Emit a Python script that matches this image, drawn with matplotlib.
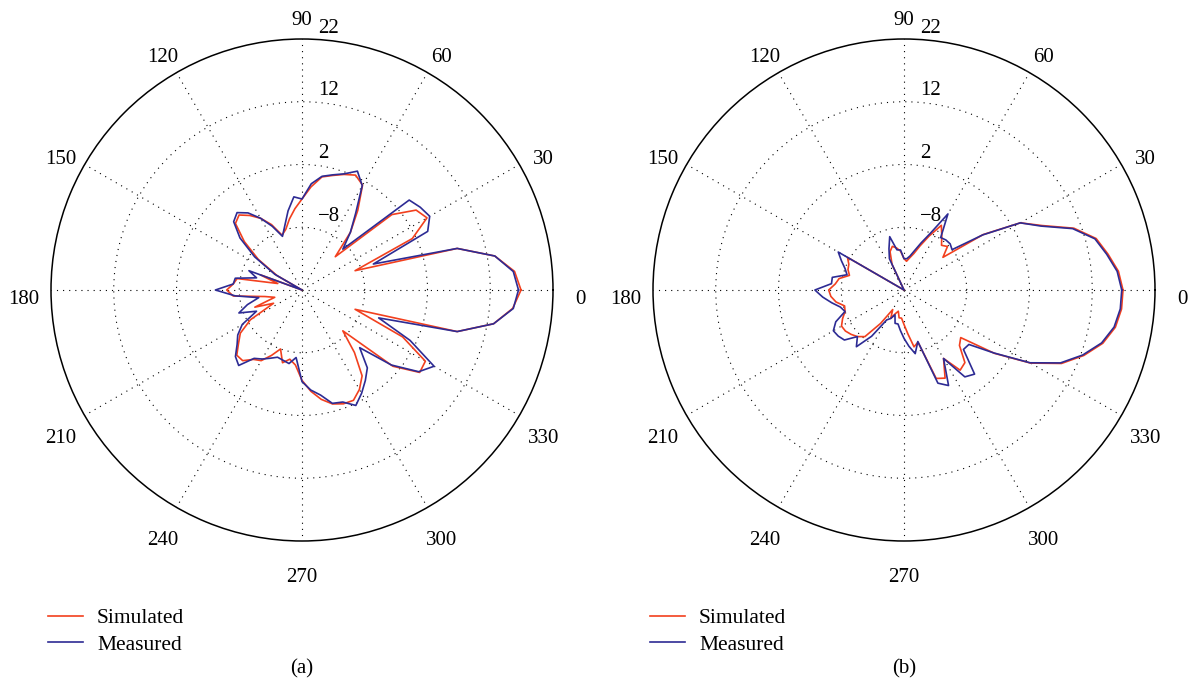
import numpy as np
import matplotlib
matplotlib.use("Agg")
import matplotlib.pyplot as plt
from matplotlib.transforms import offset_copy

# angles (deg), one sample every 5 degrees
angles_deg = list(range(0, 360, 5))

# (a) radiation pattern, dB
sim_a = [16.9, 16.0, 13.2, 7.6, -9.0, 1.4, 5.0, 4.2, 0.7, -10.5,
         -6.0, -2.5, 1.3, 2.2, 1.6, 0.9, 0.3, -1.5, -3.5, -5.0,
         -6.5, -8.0, -8.7, -6.5, -4.8, -3.5, -2.4, -3.0, -6.0, -9.5,
         -13.4, -18.0, -10.9, -14.0, -7.5, -7.0, -6.0, -7.0, -12.0, -13.5,
         -10.0, -13.0, -8.5, -6.0, -4.8, -3.3, -3.3, -4.5, -5.0, -6.5,
         -8.0, -6.0, -6.8, -6.0, -3.6, -1.8, -0.3, 0.8, 1.3, 1.4,
         0.3, -1.3, -5.0, -8.8, 0.9, 4.9, 4.7, -0.3, -9.0, 7.6,
         13.0, 15.7]
meas_a = [16.5, 15.8, 13.2, 7.6, -5.9, 4.1, 5.5, 5.0, 4.3, -8.8,
          -6.0, -3.1, 1.2, 2.9, 1.7, 1.0, 0.4, -1.0, -3.5, -3.1,
          -5.2, -7.4, -8.9, -6.8, -4.8, -3.0, -1.9, -2.6, -5.1, -8.8,
          -13.0, -18.0, -9.0, -10.5, -7.2, -7.0, -4.2, -7.3, -11.0, -9.0,
          -7.3, -10.0, -7.0, -5.5, -4.5, -3.0, -2.3, -4.7, -5.3, -6.0,
          -6.6, -6.4, -6.1, -7.2, -3.4, -2.0, -1.0, 0.7, 1.0, 2.3,
          1.0, -0.4, -1.8, -5.0, 0.6, 4.7, 6.3, 1.0, -5.0, 7.6,
          13.0, 15.8]

# (b) radiation pattern, dB
sim_b = [16.9, 16.3, 15.0, 13.7, 10.8, 6.3, 3.4, -2.6, -9.9, -8.2,
         -8.7, -7.5, -6.1, -8.5, -10.5, -12.0, -12.8, -13.4, -13.0, -11.8,
         -11.2, -10.8, -11.5, -13.5, -18.0, -18.0, -18.0, -18.0, -18.0, -18.0,
         -7.6, -8.3, -8.5, -9.0, -7.5, -7.0, -6.0, -6.3, -7.0, -8.2,
         -8.0, -7.2, -6.5, -6.6, -7.0, -7.5, -8.3, -11.5, -14.4, -13.0,
         -14.0, -14.5, -13.5, -13.5, -12.5, -11.0, -8.8, -9.4, -3.0, -2.5,
         -5.4, -2.4, -2.9, -5.5, -6.2, -0.4, 5.3, 9.7, 12.5, 14.8,
         16.2, 16.8]
meas_b = [16.7, 16.1, 14.8, 13.5, 10.6, 6.1, 3.4, -2.7, -8.0, -7.6,
          -7.6, -7.8, -4.0, -8.0, -10.0, -11.5, -12.5, -13.0, -13.0, -11.6,
          -11.5, -9.2, -11.0, -12.5, -18.0, -18.0, -18.0, -18.0, -18.0, -18.0,
          -5.9, -7.0, -8.0, -8.6, -6.4, -6.4, -3.8, -5.0, -6.3, -7.5,
          -8.0, -6.0, -5.0, -5.2, -5.6, -7.5, -6.2, -9.0, -12.5, -13.0,
          -13.8, -12.5, -12.5, -11.5, -10.3, -9.0, -7.7, -9.5, -2.2, -1.2,
          -5.4, -1.1, -0.5, -4.6, -4.5, -0.5, 5.2, 9.5, 12.3, 14.6,
          16.0, 16.6]

ring_labels = [-8, 2, 12, 22]
angle_labels = list(range(0, 360, 30))
r_min, r_max = -18, 22

red = "#f2401e"
blue = "#2d2b94"
plt.rcParams["font.family"] = ["Liberation Serif", "DejaVu Serif"]

fig = plt.figure(figsize=(11.97, 6.97), dpi=100)


def closed(vals):
    th = np.deg2rad(angles_deg + [angles_deg[0]])
    return th, np.array(vals + [vals[0]])


def draw(rect, sim, meas, tag):
    ax = fig.add_axes(rect, projection="polar")
    ax.set_ylim(r_min, r_max)
    ax.set_xticks(np.deg2rad(angle_labels))
    ax.set_yticks(ring_labels[:-1])
    ax.set_xticklabels([])
    ax.set_yticklabels([])
    ax.tick_params(length=0)
    ax.grid(True, color="black", linestyle=(0, (1, 4.5)), linewidth=0.8)
    ax.spines["polar"].set_color("black")
    ax.spines["polar"].set_linewidth(1.1)

    th, r = closed(sim)
    l1, = ax.plot(th, r, color=red, lw=1.2, label="Simulated")
    th, r = closed(meas)
    l2, = ax.plot(th, r, color=blue, lw=1.2, label="Measured")

    # angle labels just outside the outer circle
    ang_tr = offset_copy(ax.transData, fig=fig, x=0, y=-6.5, units="points")
    for a in angle_labels:
        ax.text(np.deg2rad(a), r_min + (r_max - r_min) * 1.11, str(a),
                transform=ang_tr, ha="center", va="center", fontsize=15)

    rad_tr = offset_copy(ax.transData, fig=fig, x=11.5, y=7.9, units="points")
    for v in ring_labels:
        ax.text(np.pi / 2, v, str(v).replace("-", "\u2212"), transform=rad_tr,
                ha="left", va="center", fontsize=15)

    # legend + caption below each plot
    x0 = rect[0]
    ax.legend(handles=[l1, l2], loc="upper left",
              bbox_to_anchor=(x0 - 3 / 1197, (697 - 608) / 697),
              bbox_transform=fig.transFigure, frameon=False, fontsize=15.5,
              handlelength=1.63, handletextpad=0.65, labelspacing=0.32,
              borderpad=0, borderaxespad=0)
    fig.text(x0 + rect[2] / 2, (697 - 669) / 697, tag, ha="center",
             va="center", fontsize=15)
    return ax


draw([51 / 1197, 156 / 697, 502 / 1197, 502 / 697], sim_a, meas_a, "(a)")
draw([653 / 1197, 156 / 697, 502 / 1197, 502 / 697], sim_b, meas_b, "(b)")

fig.savefig("out.png", dpi=100)
